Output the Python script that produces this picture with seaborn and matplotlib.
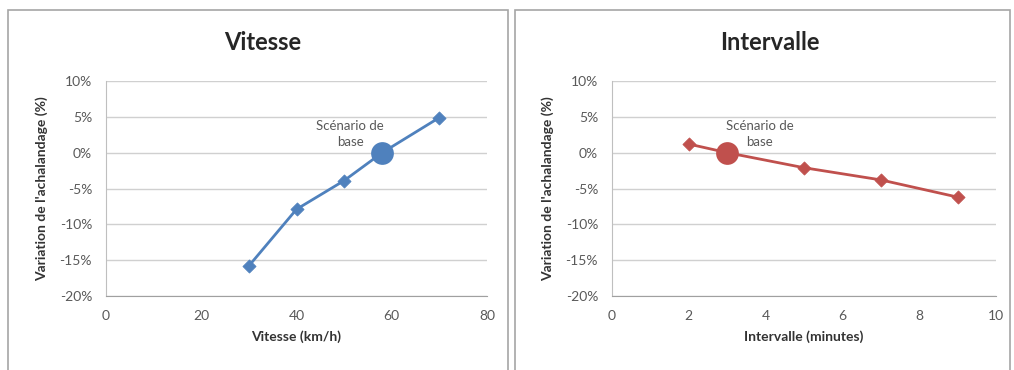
import matplotlib
matplotlib.use("Agg")
import matplotlib.pyplot as plt
import matplotlib.patches as patches
from matplotlib.ticker import FuncFormatter
import seaborn as sns
import pandas as pd

# Vitesse panel
vitesse_x = [30, 40, 50, 58, 70]
vitesse_y = [-15.8, -7.9, -3.9, 0.0, 4.9]
vitesse_base = (58, 0.0)

# Intervalle panel
intervalle_x = [2, 3, 5, 7, 9]
intervalle_y = [1.2, 0.0, -2.1, -3.8, -6.2]
intervalle_base = (3, 0.0)

y_ticks = [-20, -15, -10, -5, 0, 5, 10]
ylabel = "Variation de l'achalandage (%)"
base_label = "Scénario de\nbase"

blue = "#4F81BD"
red = "#C0504D"

sns.set_style("white")
plt.rcParams['font.family'] = ['Lato', 'DejaVu Sans']

fig = plt.figure(figsize=(10.14, 3.7), dpi=100)

# panel frames
for x0, w in [(8, 500), (515, 495)]:
    fig.patches.append(patches.Rectangle((x0 / 1014, -0.05), w / 1014, 1 - 10 / 370 + 0.05,
                                         transform=fig.transFigure, fill=False,
                                         edgecolor="#a6a6a6", linewidth=1.2))


def draw_panel(rect, xs, ys, base, color, title, xlabel, xmax, xstep, note_xy):
    ax = fig.add_axes(rect)
    df = pd.DataFrame({"x": xs, "y": ys})
    marker_df = df[df["x"] != base[0]]
    sns.lineplot(data=df, x="x", y="y", ax=ax, color=color, linewidth=2)
    sns.scatterplot(data=marker_df, x="x", y="y", ax=ax, color=color, marker="D",
                    s=45, edgecolor=color, zorder=3)
    sns.scatterplot(x=[base[0]], y=[base[1]], ax=ax, color=color, s=230,
                    edgecolor=color, zorder=4)
    ax.set_xlim(0, xmax)
    ax.set_ylim(-20, 10)
    ax.set_xticks(range(0, xmax + 1, xstep))
    ax.set_yticks(y_ticks)
    ax.yaxis.set_major_formatter(FuncFormatter(lambda v, p: f"{int(v)}%"))
    ax.grid(axis="y", color="#d0d0d0", linewidth=1)
    ax.set_axisbelow(True)
    for s in ["top", "right"]:
        ax.spines[s].set_visible(False)
    ax.spines["left"].set_color("#bfbfbf")
    ax.spines["bottom"].set_color("#a0a0a0")
    ax.tick_params(axis="both", length=0, labelsize=10, colors="#595959", pad=10)
    ax.set_xlabel(xlabel, fontsize=10, fontweight="bold", color="#333333", labelpad=6)
    ax.set_ylabel(ylabel, fontsize=10, fontweight="bold", color="#333333", labelpad=8)
    ax.text(note_xy[0], note_xy[1], base_label, ha="center", va="center",
            fontsize=9.5, color="#595959", linespacing=1.35)
    fig.text(rect[0] + rect[2] * 0.41, 1 - 43 / 370, title, ha="center", va="center",
             fontsize=17, fontweight="bold", color="#262626")
    return ax


draw_panel([106 / 1014, 1 - 296 / 370, 381 / 1014, 215 / 370],
           vitesse_x, vitesse_y, vitesse_base, blue, "Vitesse", "Vitesse (km/h)",
           80, 20, (51.3, 2.6))
draw_panel([612 / 1014, 1 - 296 / 370, 384 / 1014, 215 / 370],
           intervalle_x, intervalle_y, intervalle_base, red, "Intervalle",
           "Intervalle (minutes)", 10, 2, (3.85, 2.6))

fig.savefig("out.png", dpi=100)
